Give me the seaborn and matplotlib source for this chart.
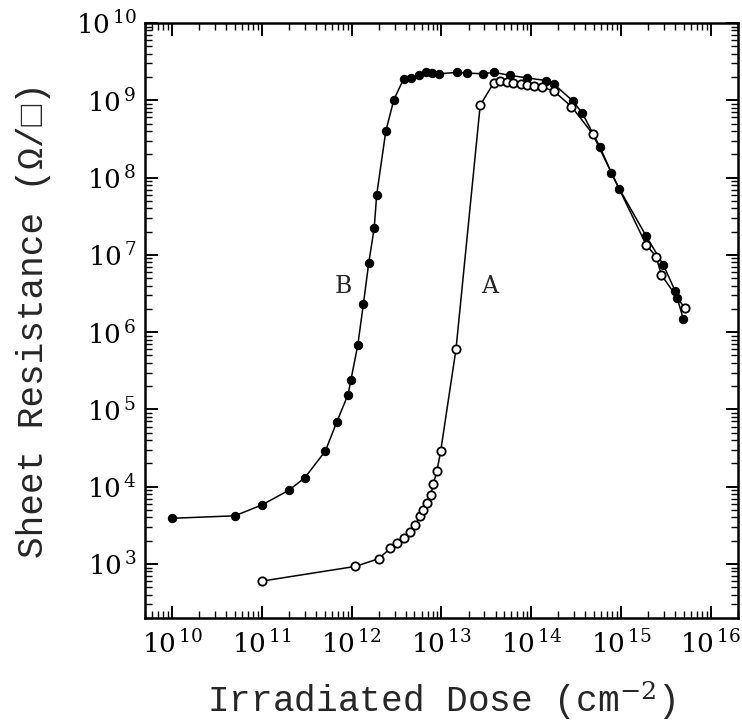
import numpy as np
import pandas as pd
import matplotlib
matplotlib.use("Agg")
import matplotlib.pyplot as plt
from matplotlib.ticker import FixedLocator, FuncFormatter, NullFormatter
import seaborn as sns

# ---- data ----
dose_B = [1e10, 5.0e10, 1.0e11, 2.0e11, 3.0e11, 5.1e11, 6.8e11, 9.1e11, 9.8e11,
          1.17e12, 1.35e12, 1.55e12, 1.78e12, 1.9e12, 2.4e12, 2.95e12, 3.8e12,
          4.6e12, 5.6e12, 6.8e12, 7.9e12, 9.5e12, 1.5e13, 1.9e13, 2.9e13, 3.8e13,
          5.8e13, 8.9e13, 1.45e14, 1.8e14, 2.9e14, 3.7e14, 5.8e14, 7.8e14, 9.5e14,
          1.9e15, 2.95e15, 4.0e15, 4.2e15, 4.9e15]
res_B = [3.9e3, 4.2e3, 5.8e3, 9.0e3, 1.3e4, 2.9e4, 6.8e4, 1.55e5, 2.4e5,
         6.8e5, 2.3e6, 7.9e6, 2.2e7, 6.0e7, 4.0e8, 1.02e9, 1.9e9,
         1.95e9, 2.1e9, 2.3e9, 2.25e9, 2.2e9, 2.3e9, 2.25e9, 2.2e9, 2.3e9,
         2.1e9, 1.95e9, 1.8e9, 1.6e9, 9.8e8, 6.8e8, 2.5e8, 1.15e8, 7.2e7,
         1.75e7, 7.4e6, 3.4e6, 2.8e6, 1.5e6]

dose_A = [1e11, 1.1e12, 2.0e12, 2.7e12, 3.2e12, 3.8e12, 4.5e12, 5.1e12, 5.8e12,
          6.3e12, 6.9e12, 7.6e12, 8.1e12, 8.9e12, 9.8e12, 1.45e13, 2.7e13,
          3.8e13, 4.5e13, 5.4e13, 6.3e13, 7.6e13, 8.9e13, 1.07e14, 1.3e14,
          1.8e14, 2.8e14, 4.8e14, 1.9e15, 2.45e15, 2.8e15, 5.1e15]
res_A = [6.0e2, 9.3e2, 1.17e3, 1.6e3, 1.85e3, 2.2e3, 2.6e3, 3.2e3, 4.2e3,
         5.0e3, 6.2e3, 7.9e3, 1.07e4, 1.6e4, 2.9e4, 6.0e5, 8.7e8,
         1.66e9, 1.78e9, 1.74e9, 1.66e9, 1.62e9, 1.58e9, 1.55e9, 1.5e9,
         1.3e9, 8.3e8, 3.7e8, 1.35e7, 9.5e6, 5.5e6, 2.05e6]

x_decades = [10, 11, 12, 13, 14, 15, 16]
y_decades = [3, 4, 5, 6, 7, 8, 9, 10]
curve_labels = ["A", "B"]
x_label = "Irradiated Dose (cm$^{-2}$)"
y_label = "Sheet Resistance (\u03a9/\u25a1)"

# ---- style ----
sns.set_style("ticks")
plt.rcParams['font.family'] = ['DejaVu Serif', 'DejaVu Sans']
plt.rcParams['mathtext.fontset'] = 'dejavuserif'

fig = plt.figure(figsize=(7.42, 7.25), dpi=100)
ax = fig.add_axes([0.1954, 0.1476, 0.7992, 0.8207])

dfB = pd.DataFrame({"dose": dose_B, "res": res_B})
dfA = pd.DataFrame({"dose": dose_A, "res": res_A})

sns.lineplot(data=dfB, x="dose", y="res", ax=ax, color="black", lw=1.1,
             marker="o", markersize=6, markerfacecolor="black",
             markeredgecolor="black", estimator=None, sort=False)
sns.lineplot(data=dfA, x="dose", y="res", ax=ax, color="black", lw=1.1,
             marker="o", markersize=6, markerfacecolor="white",
             markeredgecolor="black", markeredgewidth=1.3,
             estimator=None, sort=False)

ax.set_xscale("log")
ax.set_yscale("log")
xlo, xhi = 5e9, 2e16
ylo, yhi = 2e2, 1e10
ax.set_xlim(xlo, xhi)
ax.set_ylim(ylo, yhi)

xmaj = [10.0 ** d for d in x_decades]
ymaj = [10.0 ** d for d in y_decades]
xmin = [m * 10.0 ** d for d in range(9, 17) for m in range(2, 10)
        if xlo <= m * 10.0 ** d <= xhi]
ymin = [m * 10.0 ** d for d in range(2, 10) for m in range(2, 10)
        if ylo <= m * 10.0 ** d <= yhi]
ax.xaxis.set_major_locator(FixedLocator(xmaj))
ax.yaxis.set_major_locator(FixedLocator(ymaj))
ax.xaxis.set_minor_locator(FixedLocator(xmin))
ax.yaxis.set_minor_locator(FixedLocator(ymin))

fmt = FuncFormatter(lambda v, p: r"$\mathregular{10}^{\,%d}$" % int(round(np.log10(v))))
ax.xaxis.set_major_formatter(fmt)
ax.yaxis.set_major_formatter(fmt)
ax.xaxis.set_minor_formatter(NullFormatter())
ax.yaxis.set_minor_formatter(NullFormatter())

ax.tick_params(which="both", direction="in", top=True, right=True,
               colors="black", labelsize=19)
ax.tick_params(which="major", length=9, width=1.4)
ax.tick_params(which="minor", length=5, width=1.0)
ax.tick_params(axis="x", which="major", pad=9)
ax.tick_params(axis="y", which="major", pad=6)

for s in ax.spines.values():
    s.set_linewidth(1.8)
    s.set_color("black")

mono = ['Liberation Mono', 'DejaVu Sans Mono', 'DejaVu Sans']
ax.set_xlabel(x_label, fontsize=26, labelpad=15, family=mono)
ax.set_ylabel(y_label, fontsize=26, labelpad=18, family=mono)

ax.text(3.4e13, 3.9e6, curve_labels[0], fontsize=17, ha="center", va="center")
ax.text(8.1e11, 3.9e6, curve_labels[1], fontsize=17, ha="center", va="center")

fig.savefig("out.png", dpi=100)
